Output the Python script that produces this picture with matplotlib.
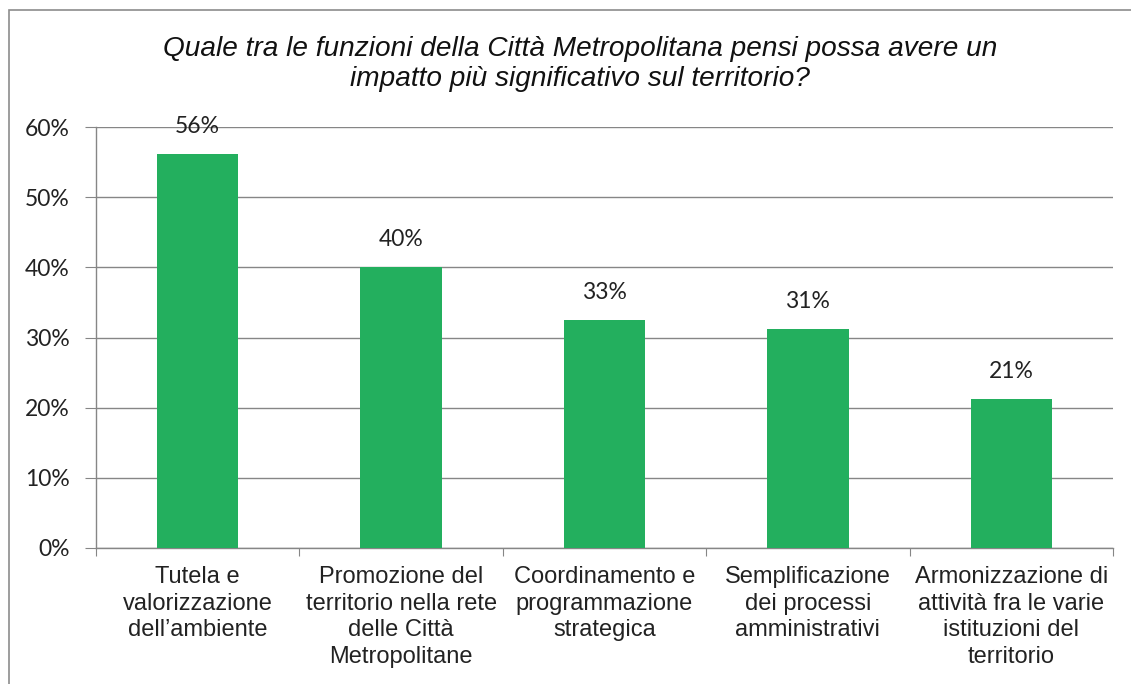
import matplotlib
matplotlib.use("Agg")
import matplotlib.pyplot as plt
from matplotlib.patches import Rectangle

categories = [
    "Tutela e\nvalorizzazione\ndell\u2019ambiente",
    "Promozione del\nterritorio nella rete\ndelle Citt\u00e0\nMetropolitane",
    "Coordinamento e\nprogrammazione\nstrategica",
    "Semplificazione\ndei processi\namministrativi",
    "Armonizzazione di\nattivit\u00e0 fra le varie\nistituzioni del\nterritorio",
]
values = [0.561, 0.40, 0.325, 0.312, 0.212]
value_labels = ["56%", "40%", "33%", "31%", "21%"]
y_ticks = [0.0, 0.1, 0.2, 0.3, 0.4, 0.5, 0.6]
y_tick_labels = ["0%", "10%", "20%", "30%", "40%", "50%", "60%"]
title = ("Quale tra le funzioni della Citt\u00e0 Metropolitana pensi possa avere un\n"
         "impatto pi\u00f9 significativo sul territorio?")

W, H = 1131, 684
fig = plt.figure(figsize=(W / 100, H / 100), dpi=100)
fig.patch.set_facecolor("white")

# outer chart border (only top and left visible, the rest is cropped)
fig.add_artist(Rectangle((9 / W, -0.05), 1.1, 1.05 - 9.5 / H, transform=fig.transFigure,
                         fill=False, edgecolor="#8c8c8c", linewidth=1.2))

ax = fig.add_axes([96 / W, 1 - 548 / H, (1113 - 96) / W, (548 - 127) / H])
x = range(len(categories))
ax.bar(x, values, width=0.40, color="#23AF5E", zorder=3)
ax.set_xlim(-0.5, len(categories) - 0.5)
ax.set_ylim(0, 0.6)

ax.set_yticks(y_ticks)
ax.set_yticklabels(y_tick_labels, fontfamily="Lato", fontsize=16.5, color="#222222")
ax.yaxis.grid(True, color="#868686", linewidth=1.0, zorder=0)
ax.tick_params(axis="y", length=8, color="#868686", pad=11)

ax.set_xticks([i + 0.5 for i in range(-1, len(categories))], minor=False)
ax.set_xticklabels([])
ax.set_xticks(list(x), minor=True)
ax.set_xticklabels(categories, minor=True, fontfamily="Liberation Sans", fontsize=17,
                   color="#222222", linespacing=1.27)
ax.tick_params(axis="x", which="major", length=6, color="#868686", direction="out")
ax.tick_params(axis="x", which="minor", length=0, pad=13)

for s in ["top", "right"]:
    ax.spines[s].set_visible(False)
for s in ["left", "bottom"]:
    ax.spines[s].set_color("#868686")
    ax.spines[s].set_linewidth(1.0)

for xi, v, lab in zip(x, values, value_labels):
    ax.annotate(lab, (xi, v), xytext=(0, 20), textcoords="offset points", ha="center",
                va="center", fontfamily="Lato", fontsize=16.5, color="#222222")

fig.text(580 / W, 1 - 64 / H, title, ha="center", va="center", fontfamily="Liberation Sans",
         style="italic", fontsize=20.2, color="#111111", linespacing=1.15)

fig.savefig("out.png", dpi=100)
